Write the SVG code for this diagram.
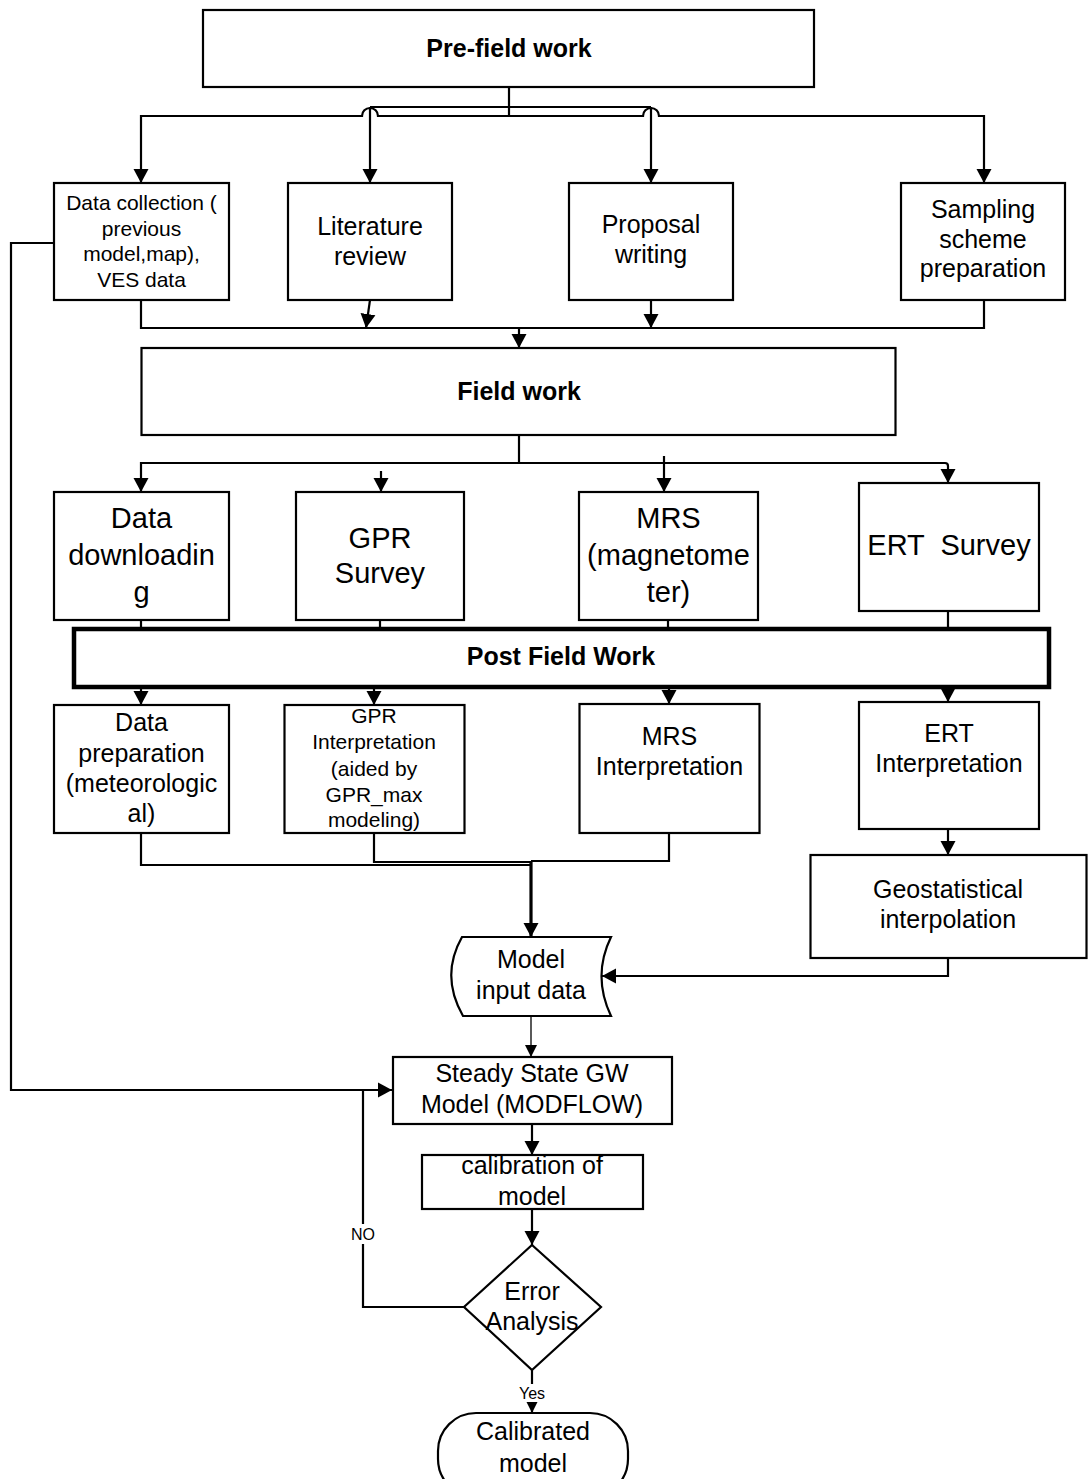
<svg xmlns="http://www.w3.org/2000/svg" width="1088" height="1479" viewBox="0 0 1088 1479">
<style>
.box{fill:#fff;stroke:#000;stroke-width:2.2}
.thick{fill:#fff;stroke:#000;stroke-width:4.5}
.t{font-family:"Liberation Sans",Arial,sans-serif;fill:#000;text-anchor:middle}
.b{font-weight:bold;font-size:25px}
.s21{font-size:21px}
.s25{font-size:25px}
.s29{font-size:29px}
.s16{font-size:16px}
.c{fill:none;stroke:#000;stroke-width:2.2}
.c3{fill:none;stroke:#000;stroke-width:3.2}
.c1{fill:none;stroke:#000;stroke-width:1.3}
</style>
<defs>
<marker id="a" markerUnits="userSpaceOnUse" markerWidth="15" markerHeight="16" refX="14" refY="8" orient="auto">
<path d="M0,0.5 L14,8 L0,15.5 Z" fill="#000"/>
</marker>
<marker id="as" markerUnits="userSpaceOnUse" markerWidth="13" markerHeight="13" refX="12" refY="6.5" orient="auto">
<path d="M0,0.5 L12,6.5 L0,12.5 Z" fill="#000"/>
</marker>
</defs>
<rect width="1088" height="1479" fill="#fff"/>

<g id="connectors">
<path class="c" d="M509,87 V116"/>
<path class="c" d="M509,116 H378 A8,8 0 0 0 362,116 H141 V183" marker-end="url(#a)"/>
<path class="c" d="M509,116 H643 A8,8 0 0 1 659,116 H984 V183" marker-end="url(#a)"/>
<path class="c" d="M370,107 H651"/>
<path class="c" d="M370,107 V183" marker-end="url(#a)"/>
<path class="c" d="M651,107 V183" marker-end="url(#a)"/>
<path class="c" d="M141,300 V328 H984 V300"/>
<path class="c" d="M370,300 L366,328" marker-end="url(#a)"/>
<path class="c" d="M651,300 V328" marker-end="url(#a)"/>
<path class="c" d="M519,328 V348" marker-end="url(#a)"/>
<path class="c" d="M519,435 V463"/>
<path class="c" d="M519,463 H141 V492" marker-end="url(#a)"/>
<path class="c" d="M519,463 H945 Q948,463 948,466 V483" marker-end="url(#a)"/>
<path class="c" d="M664,456 V492" marker-end="url(#a)"/>
<path class="c" d="M381,471 V492" marker-end="url(#a)"/>
<path class="c" d="M141,620 V629 M380,620 V629 M668,620 V629 M948,611 V629"/>
<path class="c" d="M141,689 V705" marker-end="url(#a)"/>
<path class="c" d="M374,689 V705" marker-end="url(#a)"/>
<path class="c" d="M669,689 V704" marker-end="url(#a)"/>
<path class="c" d="M948,689 V702" marker-end="url(#a)"/>
<path class="c" d="M948,829 V855" marker-end="url(#a)"/>
<path class="c" d="M141,833 V865 H531"/>
<path class="c" d="M374,833 V862 H531"/>
<path class="c" d="M669,833 V861 H531"/>
<path class="c3" d="M531,861 V937" marker-end="url(#a)"/>
<path class="c" d="M948,958 V976 H602" marker-end="url(#a)"/>
<path class="c1" d="M531,1016 V1057" marker-end="url(#as)"/>
<path class="c" d="M54,243 H11 V1090 H392" marker-end="url(#a)"/>
<path class="c" d="M464,1307 H363 V1090"/>
<path class="c" d="M532,1124 V1155" marker-end="url(#a)"/>
<path class="c" d="M532,1209 V1245" marker-end="url(#a)"/>
<path class="c" d="M532,1370 V1413" marker-end="url(#as)"/>
<rect x="351" y="1224" width="24" height="20" fill="#fff"/>
<text class="t s16" x="363" y="1240">NO</text>
<rect x="517" y="1384" width="30" height="18" fill="#fff"/>
<text class="t s16" x="532" y="1399">Yes</text>
</g>

<g id="prefield">
<rect class="box" x="203" y="10" width="611" height="77"/>
<text class="t b" x="509" y="57">Pre-field work</text>
</g>
<g id="datacollection">
<rect class="box" x="54" y="183" width="175" height="117"/>
<text class="t s21" x="141.5" y="210">Data collection (</text>
<text class="t s21" x="141.5" y="236">previous</text>
<text class="t s21" x="141.5" y="261">model,map),</text>
<text class="t s21" x="141.5" y="287">VES data</text>
</g>
<g id="literature">
<rect class="box" x="288" y="183" width="164" height="117"/>
<text class="t s25" x="370" y="235">Literature</text>
<text class="t s25" x="370" y="265">review</text>
</g>
<g id="proposal">
<rect class="box" x="569" y="183" width="164" height="117"/>
<text class="t s25" x="651" y="233">Proposal</text>
<text class="t s25" x="651" y="263">writing</text>
</g>
<g id="sampling">
<rect class="box" x="901" y="183" width="164" height="117"/>
<text class="t s25" x="983" y="218">Sampling</text>
<text class="t s25" x="983" y="248">scheme</text>
<text class="t s25" x="983" y="277">preparation</text>
</g>
<g id="fieldwork">
<rect class="box" x="141.5" y="348" width="754" height="87"/>
<text class="t b" x="519" y="400">Field work</text>
</g>
<g id="datadownloading">
<rect class="box" x="54" y="492" width="175" height="128"/>
<text class="t s29" x="141.5" y="528">Data</text>
<text class="t s29" x="141.5" y="565">downloadin</text>
<text class="t s29" x="141.5" y="602">g</text>
</g>
<g id="gprsurvey">
<rect class="box" x="296" y="492" width="168" height="128"/>
<text class="t s29" x="380" y="548">GPR</text>
<text class="t s29" x="380" y="583">Survey</text>
</g>
<g id="mrs">
<rect class="box" x="579" y="492" width="179" height="128"/>
<text class="t s29" x="668.5" y="528">MRS</text>
<text class="t s29" x="668.5" y="565">(magnetome</text>
<text class="t s29" x="668.5" y="602">ter)</text>
</g>
<g id="ertsurvey">
<rect class="box" x="859" y="483" width="180" height="128"/>
<text class="t s29" x="949" y="555" xml:space="preserve">ERT  Survey</text>
</g>
<g id="postfield">
<rect class="thick" x="74" y="629" width="975" height="58"/>
<text class="t b" x="561" y="665">Post Field Work</text>
</g>
<g id="datapreparation">
<rect class="box" x="54" y="705" width="175" height="128"/>
<text class="t s25" x="141.5" y="731">Data</text>
<text class="t s25" x="141.5" y="762">preparation</text>
<text class="t s25" x="141.5" y="792">(meteorologic</text>
<text class="t s25" x="141.5" y="822">al)</text>
</g>
<g id="gprinterpretation">
<rect class="box" x="284.5" y="705" width="180" height="128"/>
<text class="t s21" x="374" y="723">GPR</text>
<text class="t s21" x="374" y="749">Interpretation</text>
<text class="t s21" x="374" y="776">(aided by</text>
<text class="t s21" x="374" y="802">GPR_max</text>
<text class="t s21" x="374" y="827">modeling)</text>
</g>
<g id="mrsinterpretation">
<rect class="box" x="579.5" y="704" width="180" height="129"/>
<text class="t s25" x="669.5" y="745">MRS</text>
<text class="t s25" x="669.5" y="775">Interpretation</text>
</g>
<g id="ertinterpretation">
<rect class="box" x="859" y="702" width="180" height="127"/>
<text class="t s25" x="949" y="742">ERT</text>
<text class="t s25" x="949" y="772">Interpretation</text>
</g>
<g id="geostatistical">
<rect class="box" x="810.5" y="855" width="276" height="103"/>
<text class="t s25" x="948" y="898">Geostatistical</text>
<text class="t s25" x="948" y="928">interpolation</text>
</g>
<g id="modelinput">
<path class="box" d="M462,937 H611 Q592,976 611,1016 H463 Q440,976 462,937 Z"/>
<text class="t s25" x="531" y="968">Model</text>
<text class="t s25" x="531" y="999">input data</text>
</g>
<g id="steadystate">
<rect class="box" x="393" y="1057" width="279" height="67"/>
<text class="t s25" x="532" y="1082">Steady State GW</text>
<text class="t s25" x="532" y="1113">Model (MODFLOW)</text>
</g>
<g id="calibration">
<rect class="box" x="422" y="1155" width="221" height="54"/>
<text class="t s25" x="532" y="1174">calibration of</text>
<text class="t s25" x="532" y="1205">model</text>
</g>
<g id="erroranalysis">
<path class="box" d="M532,1245 L601,1307 L532,1370 L464,1307 Z"/>
<text class="t s25" x="532" y="1300">Error</text>
<text class="t s25" x="532" y="1330">Analysis</text>
</g>
<g id="calibratedmodel">
<rect class="box" x="438" y="1413" width="190" height="84" rx="38" ry="38"/>
<text class="t s25" x="533" y="1440">Calibrated</text>
<text class="t s25" x="533" y="1472">model</text>
</g>
</svg>
